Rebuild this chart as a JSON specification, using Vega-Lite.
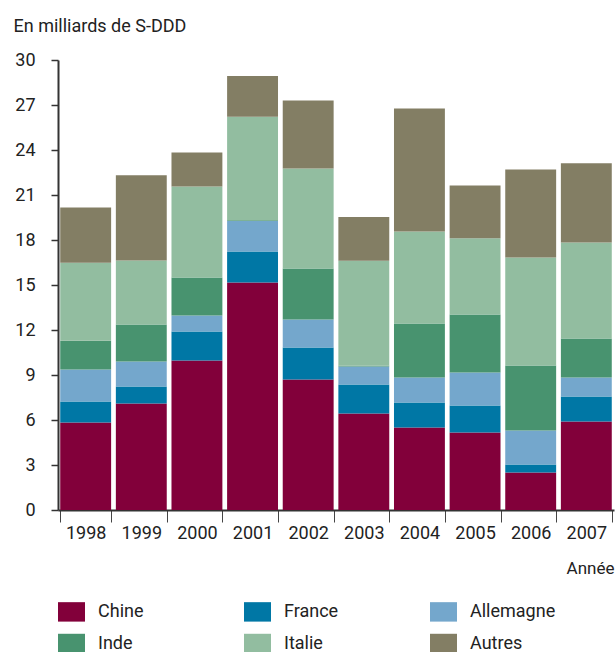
{
  "$schema": "https://vega.github.io/schema/vega-lite/v6.json",
  "width": 556,
  "height": 450,
  "autosize": {"type": "none"},
  "padding": {"left": 58, "top": 60, "right": 2, "bottom": 142},
  "background": "white",
  "config": {
    "view": {"stroke": null},
    "font": "Roboto",
    "axis": {"labelFont": "Roboto", "titleFont": "Roboto", "labelColor": "#222222", "titleColor": "#222222", "titleFontWeight": "normal"},
    "legend": {"labelFont": "Roboto", "labelColor": "#222222"}
  },
  "data": {
    "values": [
      {"annee": "1998", "pays": "Chine", "ordre": 1, "valeur": 5.83},
      {"annee": "1998", "pays": "France", "ordre": 2, "valeur": 1.4},
      {"annee": "1998", "pays": "Allemagne", "ordre": 3, "valeur": 2.13},
      {"annee": "1998", "pays": "Inde", "ordre": 4, "valeur": 1.93},
      {"annee": "1998", "pays": "Italie", "ordre": 5, "valeur": 5.2},
      {"annee": "1998", "pays": "Autres", "ordre": 6, "valeur": 3.67},
      {"annee": "1999", "pays": "Chine", "ordre": 1, "valeur": 7.1},
      {"annee": "1999", "pays": "France", "ordre": 2, "valeur": 1.13},
      {"annee": "1999", "pays": "Allemagne", "ordre": 3, "valeur": 1.67},
      {"annee": "1999", "pays": "Inde", "ordre": 4, "valeur": 2.47},
      {"annee": "1999", "pays": "Italie", "ordre": 5, "valeur": 4.27},
      {"annee": "1999", "pays": "Autres", "ordre": 6, "valeur": 5.67},
      {"annee": "2000", "pays": "Chine", "ordre": 1, "valeur": 9.97},
      {"annee": "2000", "pays": "France", "ordre": 2, "valeur": 1.93},
      {"annee": "2000", "pays": "Allemagne", "ordre": 3, "valeur": 1.07},
      {"annee": "2000", "pays": "Inde", "ordre": 4, "valeur": 2.53},
      {"annee": "2000", "pays": "Italie", "ordre": 5, "valeur": 6.07},
      {"annee": "2000", "pays": "Autres", "ordre": 6, "valeur": 2.27},
      {"annee": "2001", "pays": "Chine", "ordre": 1, "valeur": 15.17},
      {"annee": "2001", "pays": "France", "ordre": 2, "valeur": 2.07},
      {"annee": "2001", "pays": "Allemagne", "ordre": 3, "valeur": 2.02},
      {"annee": "2001", "pays": "Inde", "ordre": 4, "valeur": 0.05},
      {"annee": "2001", "pays": "Italie", "ordre": 5, "valeur": 6.9},
      {"annee": "2001", "pays": "Autres", "ordre": 6, "valeur": 2.73},
      {"annee": "2002", "pays": "Chine", "ordre": 1, "valeur": 8.7},
      {"annee": "2002", "pays": "France", "ordre": 2, "valeur": 2.13},
      {"annee": "2002", "pays": "Allemagne", "ordre": 3, "valeur": 1.87},
      {"annee": "2002", "pays": "Inde", "ordre": 4, "valeur": 3.4},
      {"annee": "2002", "pays": "Italie", "ordre": 5, "valeur": 6.67},
      {"annee": "2002", "pays": "Autres", "ordre": 6, "valeur": 4.53},
      {"annee": "2003", "pays": "Chine", "ordre": 1, "valeur": 6.43},
      {"annee": "2003", "pays": "France", "ordre": 2, "valeur": 1.93},
      {"annee": "2003", "pays": "Allemagne", "ordre": 3, "valeur": 1.2},
      {"annee": "2003", "pays": "Inde", "ordre": 4, "valeur": 0.05},
      {"annee": "2003", "pays": "Italie", "ordre": 5, "valeur": 7.0},
      {"annee": "2003", "pays": "Autres", "ordre": 6, "valeur": 2.93},
      {"annee": "2004", "pays": "Chine", "ordre": 1, "valeur": 5.5},
      {"annee": "2004", "pays": "France", "ordre": 2, "valeur": 1.67},
      {"annee": "2004", "pays": "Allemagne", "ordre": 3, "valeur": 1.67},
      {"annee": "2004", "pays": "Inde", "ordre": 4, "valeur": 3.6},
      {"annee": "2004", "pays": "Italie", "ordre": 5, "valeur": 6.13},
      {"annee": "2004", "pays": "Autres", "ordre": 6, "valeur": 8.2},
      {"annee": "2005", "pays": "Chine", "ordre": 1, "valeur": 5.17},
      {"annee": "2005", "pays": "France", "ordre": 2, "valeur": 1.8},
      {"annee": "2005", "pays": "Allemagne", "ordre": 3, "valeur": 2.2},
      {"annee": "2005", "pays": "Inde", "ordre": 4, "valeur": 3.87},
      {"annee": "2005", "pays": "Italie", "ordre": 5, "valeur": 5.07},
      {"annee": "2005", "pays": "Autres", "ordre": 6, "valeur": 3.53},
      {"annee": "2006", "pays": "Chine", "ordre": 1, "valeur": 2.5},
      {"annee": "2006", "pays": "France", "ordre": 2, "valeur": 0.53},
      {"annee": "2006", "pays": "Allemagne", "ordre": 3, "valeur": 2.27},
      {"annee": "2006", "pays": "Inde", "ordre": 4, "valeur": 4.33},
      {"annee": "2006", "pays": "Italie", "ordre": 5, "valeur": 7.2},
      {"annee": "2006", "pays": "Autres", "ordre": 6, "valeur": 5.87},
      {"annee": "2007", "pays": "Chine", "ordre": 1, "valeur": 5.9},
      {"annee": "2007", "pays": "France", "ordre": 2, "valeur": 1.67},
      {"annee": "2007", "pays": "Allemagne", "ordre": 3, "valeur": 1.27},
      {"annee": "2007", "pays": "Inde", "ordre": 4, "valeur": 2.6},
      {"annee": "2007", "pays": "Italie", "ordre": 5, "valeur": 6.4},
      {"annee": "2007", "pays": "Autres", "ordre": 6, "valeur": 5.27}
    ]
  },
  "mark": {"type": "bar"},
  "encoding": {
    "x": {
      "field": "annee",
      "type": "ordinal",
      "scale": {"paddingInner": 0.085, "paddingOuter": 0.04},
      "axis": {
        "title": "Année",
        "titleAnchor": "end",
        "titleAlign": "right",
        "titleX": 556,
        "titleY": 63,
        "titleBaseline": "alphabetic",
        "titleFontSize": 17,
        "labelAngle": 0,
        "labelFontSize": 18,
        "labelPadding": 2,
        "tickBand": "extent",
        "tickSize": 12,
        "tickColor": "#444444",
        "tickWidth": 1,
        "domainColor": "#333333",
        "domainWidth": 2
      }
    },
    "y": {
      "field": "valeur",
      "type": "quantitative",
      "stack": "zero",
      "scale": {"domain": [0, 30], "nice": false},
      "axis": {
        "title": "En milliards de S-DDD",
        "titleAngle": 0,
        "titleAlign": "left",
        "titleBaseline": "alphabetic",
        "titleX": -45,
        "titleY": -29,
        "titleFontSize": 18,
        "values": [0, 3, 6, 9, 12, 15, 18, 21, 24, 27, 30],
        "labelFontSize": 18,
        "labelPadding": 16,
        "tickSize": 7,
        "tickColor": "#333333",
        "tickWidth": 1.5,
        "domainColor": "#333333",
        "domainWidth": 2,
        "grid": false
      }
    },
    "color": {
      "field": "pays",
      "type": "nominal",
      "scale": {
        "domain": ["Chine", "France", "Allemagne", "Inde", "Italie", "Autres"],
        "range": ["#82003a", "#0077a5", "#74a7cc", "#48936f", "#92bda0", "#837e64"]
      },
      "legend": {
        "title": null,
        "orient": "none",
        "legendX": 0,
        "legendY": 538,
        "direction": "horizontal",
        "columns": 3,
        "gridAlign": "all",
        "columnPadding": 60,
        "rowPadding": 8,
        "symbolType": "M-1,-0.72H1V0.72H-1Z",
        "symbolSize": 729,
        "symbolStrokeWidth": 0,
        "symbolOpacity": 1,
        "labelFontSize": 18,
        "labelOffset": 13
      }
    },
    "order": {"field": "ordre", "type": "quantitative"}
  }
}
